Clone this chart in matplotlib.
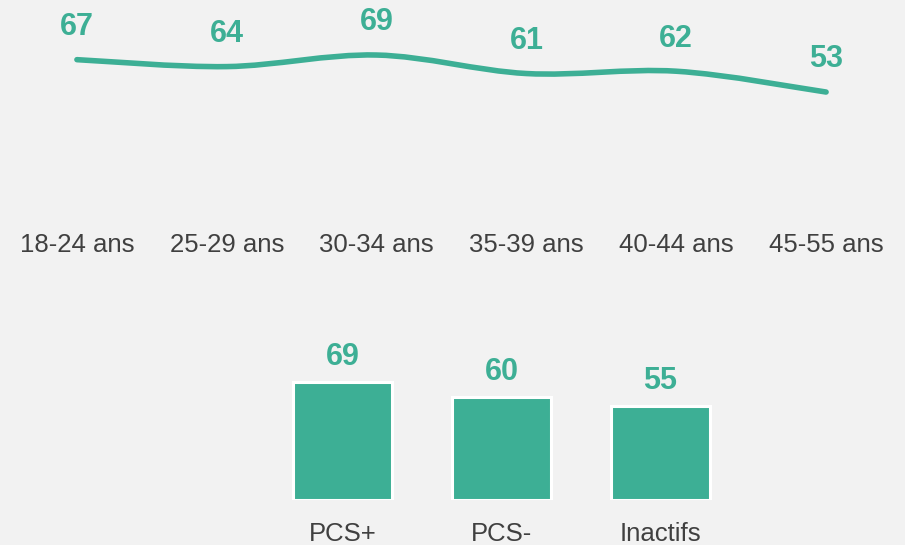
import matplotlib.pyplot as plt
from matplotlib.path import Path
from matplotlib.patches import PathPatch
import numpy as np

plt.rcParams['font.family'] = ['Liberation Sans', 'DejaVu Sans']

# data
age_groups = ['18-24 ans', '25-29 ans', '30-34 ans', '35-39 ans', '40-44 ans', '45-55 ans']
age_values = [67, 64, 69, 61, 62, 53]

pcs_groups = ['PCS+', 'PCS-', 'Inactifs']
pcs_values = [69, 60, 55]

green = '#3daf95'
bg = '#f2f2f2'
grey = '#404040'

W, H = 905, 545
fig = plt.figure(figsize=(W / 100, H / 100), dpi=100, facecolor=bg)


def px_axes(left, top, width, height):
    return fig.add_axes([left / W, 1 - (top + height) / H, width / W, height / H])


# --- top: smoothed line by age ---
ax1 = px_axes(2, 0, 899, 228)
ax1.set_facecolor(bg)
x = np.arange(len(age_values))
y = np.array(age_values, dtype=float)

# smooth curve through the points (cubic bezier segments)
px = np.concatenate([[x[0]], x, [x[-1]]])
py = np.concatenate([[y[0]], y, [y[-1]]])
verts = [(x[0], y[0])]
codes = [Path.MOVETO]
for i in range(1, len(px) - 2):
    c1 = (px[i] + (px[i + 1] - px[i - 1]) / 6, py[i] + (py[i + 1] - py[i - 1]) / 6)
    c2 = (px[i + 1] - (px[i + 2] - px[i]) / 6, py[i + 1] - (py[i + 2] - py[i]) / 6)
    verts += [c1, c2, (px[i + 1], py[i + 1])]
    codes += [Path.CURVE4] * 3
ax1.add_patch(PathPatch(Path(verts, codes), facecolor='none', edgecolor=green,
                        lw=4, capstyle='round', joinstyle='round'))

for xi, v in zip(x, age_values):
    ax1.annotate(str(v), (xi, v), xytext=(0, 23.5), textcoords='offset points',
                 ha='center', va='center', fontsize=22, fontweight='bold', color=green)

ax1.set_xlim(-0.5, len(age_values) - 0.5)
ax1.set_ylim(-5.8, 92.8)
ax1.set_xticks(x)
ax1.set_xticklabels(age_groups, fontsize=18.5, color=grey)
ax1.tick_params(axis='x', length=0, pad=3.5)
ax1.set_yticks([])
for s in ax1.spines.values():
    s.set_visible(False)

# --- bottom: bars by PCS ---
ax2 = px_axes(263, 300, 477, 200)
ax2.set_facecolor(bg)
xb = np.arange(len(pcs_values))
ax2.bar(xb, pcs_values, width=0.62, color=green, edgecolor='white', linewidth=2.2)
for xi, v in zip(xb, pcs_values):
    ax2.annotate(str(v), (xi, v), xytext=(0, 18), textcoords='offset points',
                 ha='center', va='center', fontsize=22, fontweight='bold', color=green)
ax2.set_xlim(-0.5, len(pcs_values) - 0.5)
ax2.set_ylim(0, 117)
ax2.set_xticks(xb)
ax2.set_xticklabels(pcs_groups, fontsize=18.5, color=grey)
ax2.tick_params(axis='x', length=0, pad=16)
ax2.set_yticks([])
for s in ax2.spines.values():
    s.set_visible(False)

fig.savefig('out.png', dpi=100, facecolor=bg)
